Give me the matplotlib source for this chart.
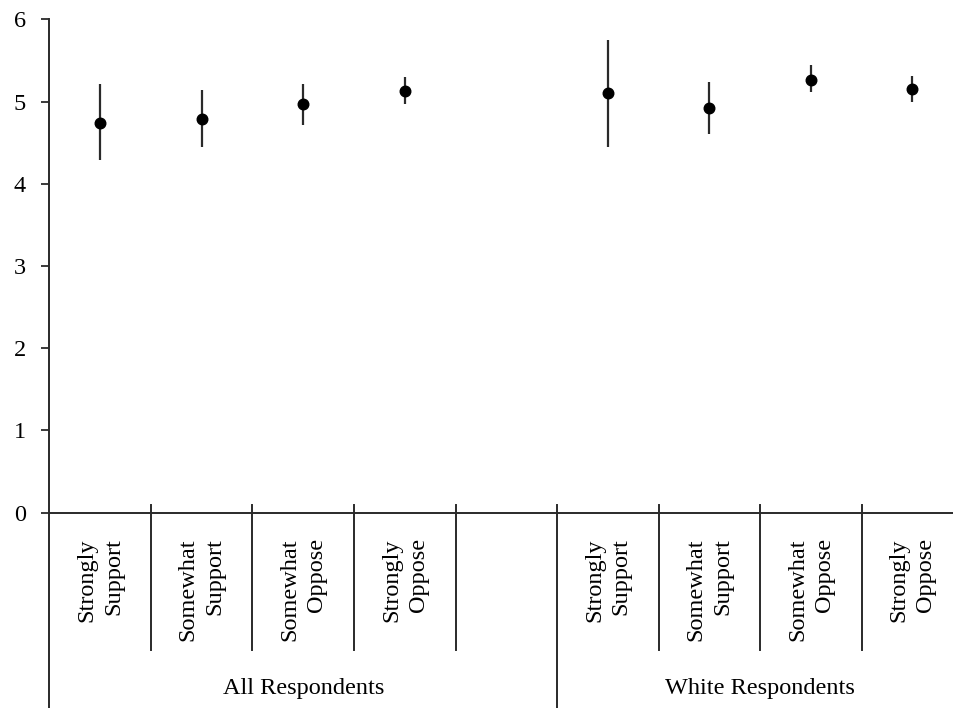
import matplotlib.pyplot as plt
import numpy as np

plt.rcParams["font.family"] = ["Liberation Serif", "DejaVu Serif"]

groups = ["All Respondents", "White Respondents"]
categories = ["Strongly\nSupport", "Somewhat\nSupport", "Somewhat\nOppose", "Strongly\nOppose"]

all_mean = [4.74, 4.79, 4.97, 5.13]
all_low = [4.29, 4.45, 4.72, 4.97]
all_high = [5.21, 5.14, 5.21, 5.30]

white_mean = [5.10, 4.92, 5.26, 5.15]
white_low = [4.45, 4.60, 5.11, 4.99]
white_high = [5.75, 5.24, 5.44, 5.31]

INK = "#2a2a2a"
FS = 17.5

fig = plt.figure(figsize=(9.54, 7.08), dpi=100)
ax = fig.add_axes([0.0517, 0.2761, 0.958, 0.6966])

n_cat = len(categories)
group_width = n_cat + 1  # a blank slot separates the two groups
total = group_width + n_cat

series = [(all_mean, all_low, all_high), (white_mean, white_low, white_high)]
for g, (mean, low, high) in enumerate(series):
    x = g * group_width + np.arange(n_cat) + 0.5
    mean = np.asarray(mean)
    yerr = [mean - np.asarray(low), np.asarray(high) - mean]
    ax.errorbar(x, mean, yerr=yerr, fmt="o", color="black", ecolor=INK,
                elinewidth=1.6, markersize=7.6, capsize=0, zorder=3)

ax.set_xlim(0, total)
ax.set_ylim(0, 6)
ax.set_yticks(range(7))
ax.set_xticks([])
ax.tick_params(axis="y", direction="out", length=6, width=1.3, color=INK,
               pad=11, labelsize=FS, labelcolor="black")

for side in ("top", "right"):
    ax.spines[side].set_visible(False)
for side in ("left", "bottom"):
    ax.spines[side].set_color(INK)
    ax.spines[side].set_linewidth(1.4)

# category dividers and group separators below the axis
trans = ax.get_xaxis_transform()
top_y = 0.0152
short_y = -0.279
long_y = -0.396
ax.plot([0, 0], [0, long_y], transform=trans, color=INK, lw=1.4, clip_on=False)
for xb in range(1, total + 1):
    bottom = long_y if xb == group_width else short_y
    ax.plot([xb, xb], [top_y, bottom], transform=trans, color=INK,
            lw=1.4, clip_on=False)

for g in range(2):
    base = g * group_width
    for i, label in enumerate(categories):
        ax.text(base + i + 0.5, -0.0517, label, transform=trans, rotation=90,
                ha="center", va="top", multialignment="right",
                fontsize=FS, linespacing=1.35)
    end = group_width if g == 0 else total
    ax.text((base + end) / 2, -0.356, groups[g], transform=trans,
            ha="center", va="center", fontsize=FS)

fig.savefig("out.png", dpi=100)
